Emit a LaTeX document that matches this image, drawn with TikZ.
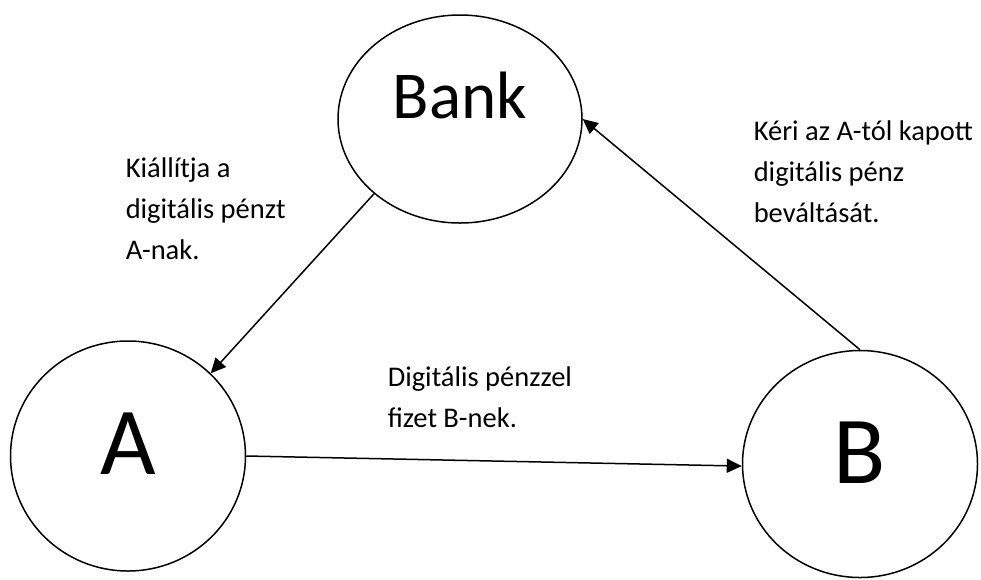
\documentclass[tikz,border=0pt]{standalone}
\usepackage{fontspec}
\setmainfont{Carlito}
\usetikzlibrary{shapes.geometric,arrows.meta}
\begin{document}
\begin{tikzpicture}[x=1pt,y=-1pt,line width=1.5pt]
  \tikzstyle{party}=[ellipse,draw,inner sep=0pt,text depth=0pt,font=\fontsize{96}{96}\selectfont]
  \tikzstyle{note}=[inner sep=0pt,anchor=base west,align=left,font=\fontsize{28.5}{41}\selectfont]
  \tikzstyle{line} = [draw, -{Triangle[length=15pt,width=14pt]}]
  \useasboundingbox (0,0) rectangle (981,579);
  \node[party,minimum width=244pt,minimum height=208pt,text height=0pt,text depth=1pt,
        font=\fontsize{67}{67}\selectfont] (Bank) at (460,119) {Bank};
  \node[party,minimum width=235pt,minimum height=230pt,text height=36pt] (A) at (128,456) {A};
  \node[party,minimum width=235pt,minimum height=227pt,text height=38pt] (B) at (860,464) {B};
  % labels (anchored at the last baseline)
  \node[note] (issue)  at (125,259) {Kiállítja a\\digitális pénzt\\A-nak.};
  \node[note] (redeem) at (753,222) {Kéri az A-tól kapott\\digitális pénz\\beváltását.};
  \node[note] (pay)    at (387,427) {Digitális pénzzel\\fizet B-nek.};
  % arrows
  \draw[line] (Bank.221) -- (A.45);
  \draw[line] (A.0) -- (B.181);
  \draw[line] (B.90) -- (Bank.0);
\end{tikzpicture}
\end{document}
